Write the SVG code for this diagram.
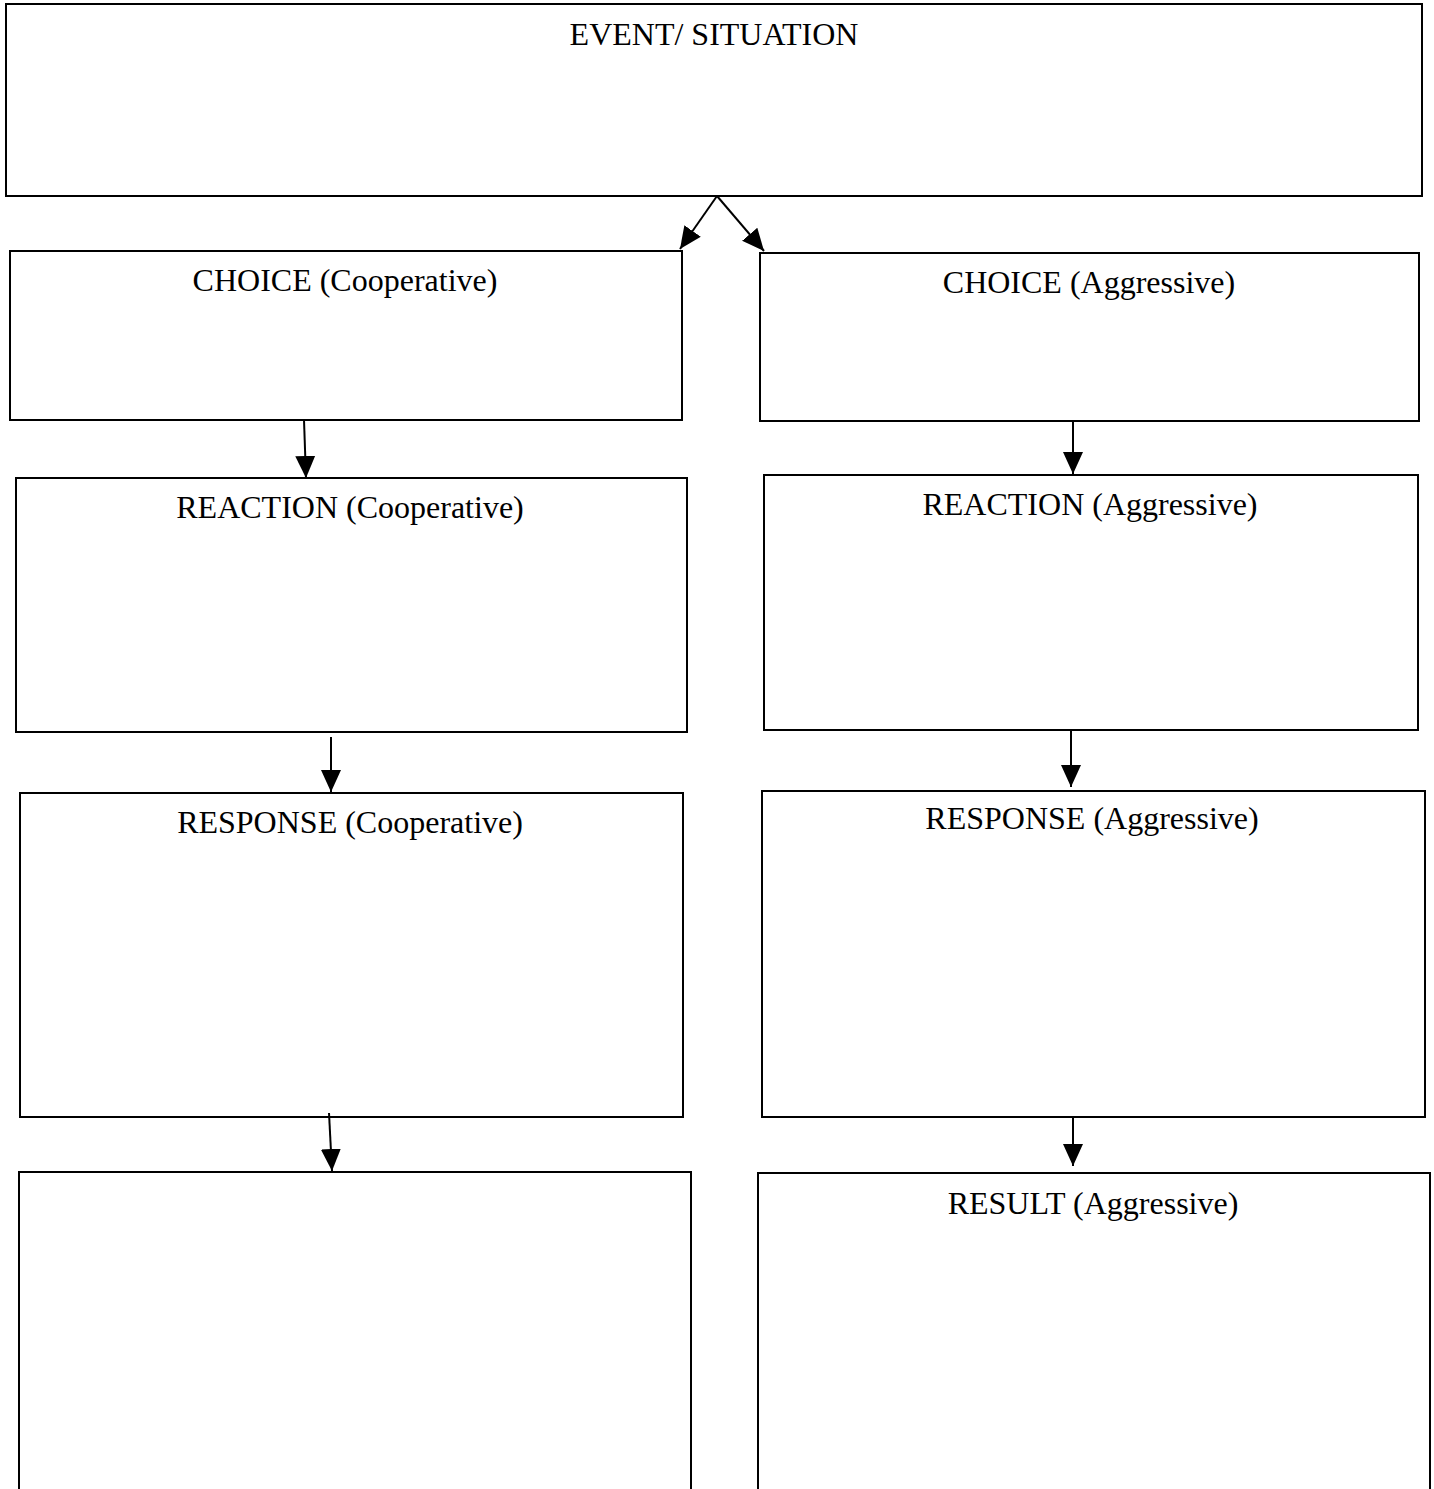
<svg xmlns="http://www.w3.org/2000/svg" width="1434" height="1489" viewBox="0 0 1434 1489">
<style>
.box{fill:#fff;stroke:#000;stroke-width:2}
.lbl{font-family:"Liberation Serif","Times New Roman",serif;font-size:32px;fill:#000;text-anchor:middle}
.con{stroke:#000;stroke-width:2;fill:none}
</style>
<defs>
<marker id="ah" markerUnits="userSpaceOnUse" markerWidth="24" markerHeight="24" viewBox="0 0 24 24" refX="22" refY="12" orient="auto">
<path d="M0,2 L22,12 L0,22 Z" fill="#000"/>
</marker>
</defs>
<rect width="1434" height="1489" fill="#fff"/>
<g id="event"><rect class="box" x="6" y="4" width="1416" height="192"/><text class="lbl" x="714" y="45">EVENT/ SITUATION</text></g>
<g id="choice-coop"><rect class="box" x="10" y="251" width="672" height="169"/><text class="lbl" x="345" y="291">CHOICE (Cooperative)</text></g>
<g id="choice-aggr"><rect class="box" x="760" y="253" width="659" height="168"/><text class="lbl" x="1089" y="293">CHOICE (Aggressive)</text></g>
<g id="reaction-coop"><rect class="box" x="16" y="478" width="671" height="254"/><text class="lbl" x="350" y="518">REACTION (Cooperative)</text></g>
<g id="reaction-aggr"><rect class="box" x="764" y="475" width="654" height="255"/><text class="lbl" x="1090" y="515">REACTION (Aggressive)</text></g>
<g id="response-coop"><rect class="box" x="20" y="793" width="663" height="324"/><text class="lbl" x="350" y="833">RESPONSE (Cooperative)</text></g>
<g id="response-aggr"><rect class="box" x="762" y="791" width="663" height="326"/><text class="lbl" x="1092" y="829">RESPONSE (Aggressive)</text></g>
<g id="result-coop"><rect class="box" x="19" y="1172" width="672" height="340"/></g>
<g id="result-aggr"><rect class="box" x="758" y="1173" width="672" height="340"/><text class="lbl" x="1093" y="1214">RESULT (Aggressive)</text></g>
<g id="connectors">
<line class="con" x1="717" y1="196" x2="680" y2="249" marker-end="url(#ah)"/>
<line class="con" x1="717" y1="196" x2="764" y2="251" marker-end="url(#ah)"/>
<line class="con" x1="304" y1="420" x2="306" y2="478" marker-end="url(#ah)"/>
<line class="con" x1="1073" y1="421" x2="1073" y2="474" marker-end="url(#ah)"/>
<line class="con" x1="331" y1="737" x2="331" y2="792" marker-end="url(#ah)"/>
<line class="con" x1="1071" y1="730" x2="1071" y2="787" marker-end="url(#ah)"/>
<line class="con" x1="329" y1="1113" x2="332" y2="1171" marker-end="url(#ah)"/>
<line class="con" x1="1073" y1="1117" x2="1073" y2="1166" stroke-width="3.5" marker-end="url(#ah)"/>
</g>
</svg>
